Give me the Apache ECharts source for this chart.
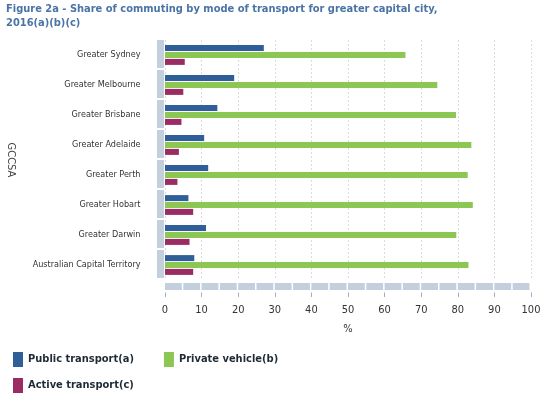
<!DOCTYPE html>
<html>
<head>
<meta charset="utf-8">
<script src="https://cdn.jsdelivr.net/npm/echarts@6/dist/echarts.min.js"></script>
<style>
  html, body { margin: 0; padding: 0; background: #fff; }
  #chart { width: 546px; height: 399px; }
</style>
</head>
<body>
<div id="chart"></div>
<script>
// data (percent of commuters)
const cities = ['Greater Sydney', 'Greater Melbourne', 'Greater Brisbane', 'Greater Adelaide',
  'Greater Perth', 'Greater Hobart', 'Greater Darwin', 'Australian Capital Territory']
const publicTransport = [27.0, 18.9, 14.3, 10.7, 11.8, 6.4, 11.2, 8.0]
const privateVehicle = [65.7, 74.4, 79.5, 83.7, 82.7, 84.1, 79.6, 82.9]
const activeTransport = [5.4, 5.0, 4.5, 3.8, 3.4, 7.7, 6.7, 7.7]
const seriesNames = ['Public transport(a)', 'Private vehicle(b)', 'Active transport(c)']
const xTicks = [0, 10, 20, 30, 40, 50, 60, 70, 80, 90, 100]

const FONT = '"DejaVu Sans Condensed", "DejaVu Sans", sans-serif'
const BAND = '#c4cfdd'

const chart = echarts.init(document.getElementById('chart'), null, { renderer: 'canvas' })

function bar(name, data, color) {
  return {
    name, type: 'bar', data,
    barWidth: 6, barGap: '15%',
    itemStyle: { color, borderWidth: 0 }
  }
}

const legendBase = {
  left: 8, padding: 5, icon: 'rect',
  itemWidth: 10, itemHeight: 15, itemGap: 30, itemStyle: { borderWidth: 0 },
  textStyle: { fontFamily: FONT, fontWeight: 'bold', fontSize: 11, color: '#1f2a36' }
}

chart.setOption({
  animation: false,
  title: {
    text: 'Figure 2a - Share of commuting by mode of transport for greater capital city,\n2016(a)(b)(c)',
    left: 6, top: 2, padding: 0,
    textStyle: { fontFamily: FONT, fontWeight: 'bold', fontSize: 11, color: '#4a74a6', lineHeight: 14 }
  },
  grid: { left: 165, right: 15, top: 40, bottom: 119, outerBoundsMode: 'none' },
  xAxis: [
    {
      type: 'value', min: xTicks[0], max: xTicks[xTicks.length - 1], interval: 10,
      position: 'bottom', offset: 12.5,
      name: '%', nameLocation: 'middle', nameGap: 31,
      nameTextStyle: { fontFamily: FONT, fontSize: 11, color: '#333' },
      axisLine: { show: false },
      axisTick: { show: true, length: 4.5, lineStyle: { color: '#9fb0c6' } },
      axisLabel: { margin: 12, fontFamily: FONT, fontSize: 11, color: '#333' },
      splitLine: { show: true, lineStyle: { color: '#dcdcdc', type: [2, 2] } }
    },
    {
      // the grey "floor" band under the bars
      type: 'value', min: 0, max: 100, position: 'bottom', offset: 6.5,
      axisLine: { show: true, onZero: false, lineStyle: { color: BAND, width: 7, cap: 'butt', type: [16.8, 1.5] } },
      axisTick: { show: false }, axisLabel: { show: false }, splitLine: { show: false }
    }
  ],
  yAxis: {
    type: 'category', data: cities, inverse: true, offset: 4.5,
    name: 'GCCSA', nameLocation: 'middle', nameGap: 144, nameRotate: -90,
    nameTextStyle: { fontFamily: FONT, fontSize: 11, color: '#444' },
    // grey side wall, one block per city
    axisLine: { show: true, onZero: false, lineStyle: { color: BAND, width: 7, cap: 'butt', type: [28, 2] } },
    axisTick: { show: false },
    axisLabel: { margin: 20, fontFamily: FONT, fontSize: 9, color: '#333' }
  },
  legend: [
    Object.assign({}, legendBase, { top: 347, data: seriesNames.slice(0, 2) }),
    Object.assign({}, legendBase, { top: 373, data: seriesNames.slice(2) })
  ],
  series: [
    bar(seriesNames[0], publicTransport, '#2f5f98'),
    bar(seriesNames[1], privateVehicle, '#8cc653'),
    bar(seriesNames[2], activeTransport, '#9b2c63')
  ]
})
</script>
</body>
</html>
